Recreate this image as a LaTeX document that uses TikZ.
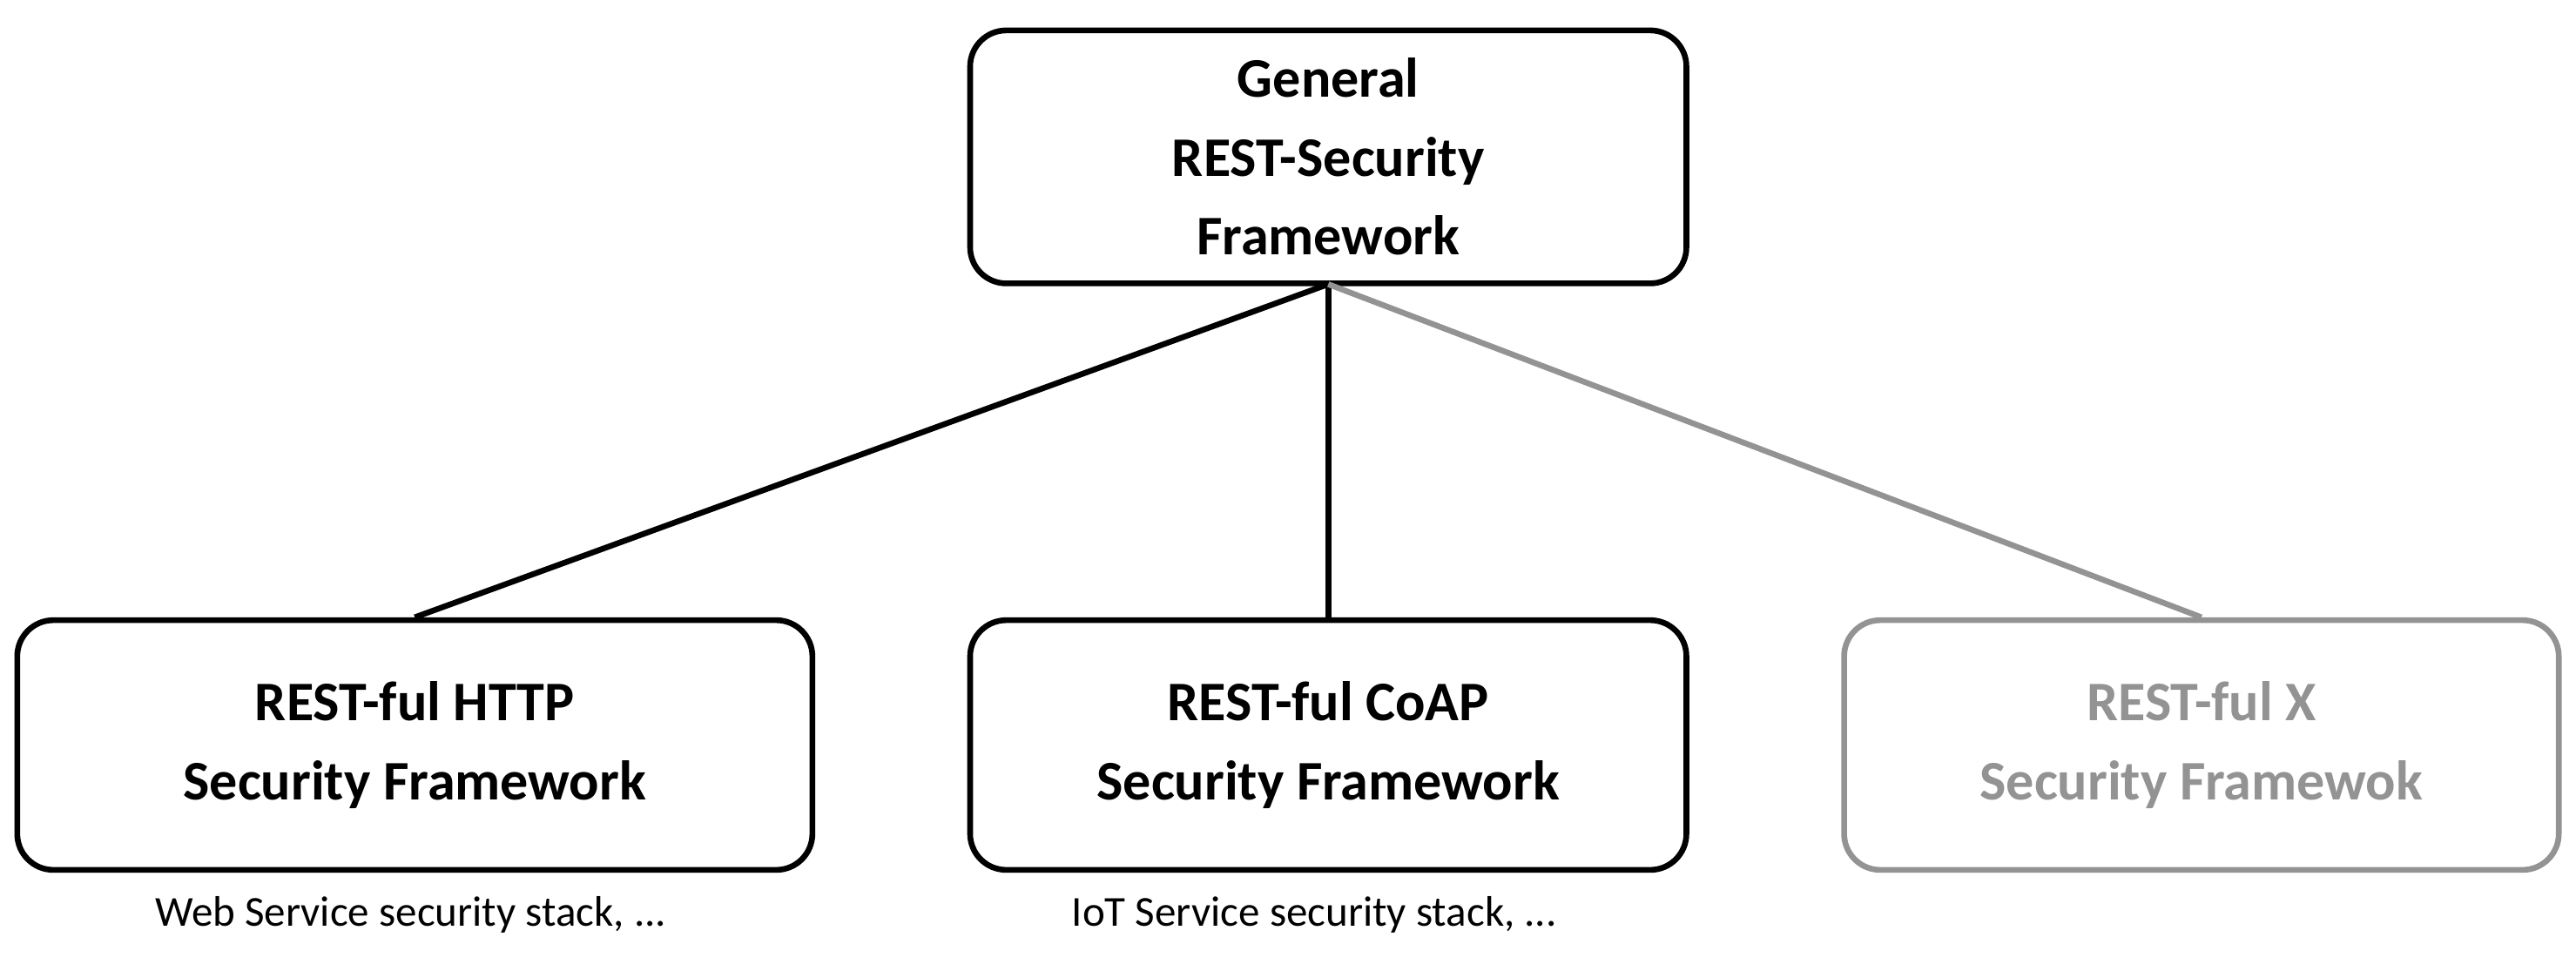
\documentclass[tikz,border=0pt]{standalone}
\usepackage{fontspec}
\setmainfont{Carlito}
\begin{document}
\begin{tikzpicture}[x=1pt,y=-1pt,
 box/.style={draw=black,line width=3.5pt,rounded corners=22pt,align=center,font=\fontsize{34}{48}\selectfont\bfseries,inner sep=0pt},
 gbox/.style={box,draw=gray!85,text=gray!85},
 lab/.style={font=\fontsize{26}{30}\selectfont,anchor=center}]
\useasboundingbox (0,0) rectangle (1568,591);
\node[box,minimum width=436pt,minimum height=154pt] (top) at (808.5,95.5) {General\\REST-Security\\Framework};
\node[box,minimum width=484pt,minimum height=152pt] (l) at (252.5,453.5) {REST-ful HTTP\\Security Framework};
\node[box,minimum width=436pt,minimum height=152pt] (m) at (808.5,453.5) {REST-ful CoAP\\Security Framework};
\node[gbox,minimum width=435pt,minimum height=152pt] (r) at (1340,453.5) {REST-ful X\\Security Framewok};
\coordinate (tb) at (808.5,173);
\draw[line width=3.5pt] (tb) -- (l.north);
\draw[line width=3.5pt] (tb) -- (m.north);
\draw[line width=3.5pt,gray!85] (tb) -- (r.north);
\node[lab] (la) at (250,557) {Web Service security stack, ...};
\node[lab] (ma) at (800,557) {IoT Service security stack, ...};
\end{tikzpicture}
\end{document}
